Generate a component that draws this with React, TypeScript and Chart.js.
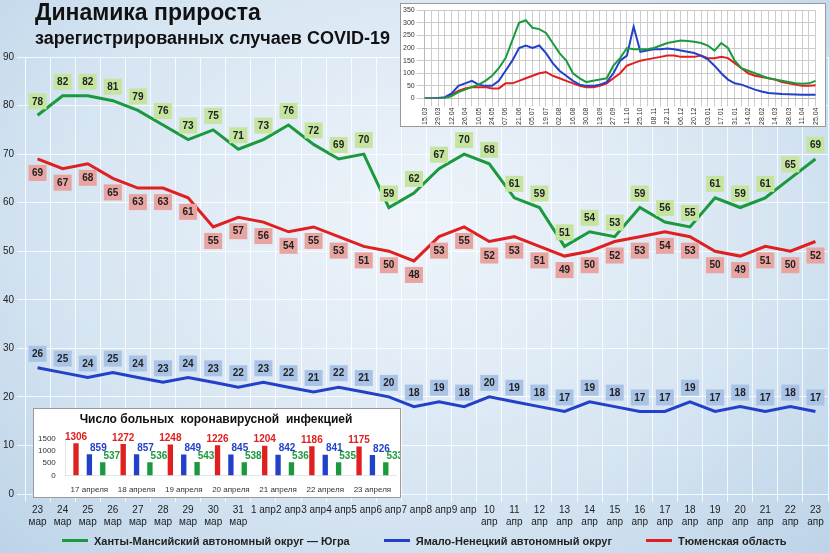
import { useEffect, useRef } from "react"
import Chart from "chart.js/auto"

const days = [
  ["23", "мар"], ["24", "мар"], ["25", "мар"], ["26", "мар"], ["27", "мар"], ["28", "мар"], ["29", "мар"], ["30", "мар"], ["31", "мар"],
  "1 апр", "2 апр", "3 апр", "4 апр", "5 апр", "6 апр", "7 апр", "8 апр", "9 апр",
  ["10", "апр"], ["11", "апр"], ["12", "апр"], ["13", "апр"], ["14", "апр"], ["15", "апр"], ["16", "апр"],
  ["17", "апр"], ["18", "апр"], ["19", "апр"], ["20", "апр"], ["21", "апр"], ["22", "апр"], ["23", "апр"],
]
const hmao = [78, 82, 82, 81, 79, 76, 73, 75, 71, 73, 76, 72, 69, 70, 59, 62, 67, 70, 68, 61, 59, 51, 54, 53, 59, 56, 55, 61, 59, 61, 65, 69]
const tyumen = [69, 67, 68, 65, 63, 63, 61, 55, 57, 56, 54, 55, 53, 51, 50, 48, 53, 55, 52, 53, 51, 49, 50, 52, 53, 54, 53, 50, 49, 51, 50, 52]
const yanao = [26, 25, 24, 25, 24, 23, 24, 23, 22, 23, 22, 21, 22, 21, 20, 18, 19, 18, 20, 19, 18, 17, 19, 18, 17, 17, 19, 17, 18, 17, 18, 17]

// weekly history for the top inset
const weeks = [
  "15.03", "22.03", "29.03", "05.04", "12.04", "19.04", "26.04", "03.05", "10.05", "17.05", "24.05", "31.05", "07.06", "14.06",
  "21.06", "28.06", "05.07", "12.07", "19.07", "26.07", "02.08", "09.08", "16.08", "23.08", "30.08", "06.09", "13.09", "20.09",
  "27.09", "04.10", "11.10", "18.10", "25.10", "01.11", "08.11", "15.11", "22.11", "29.11", "06.12", "13.12", "20.12", "27.12",
  "03.01", "10.01", "17.01", "24.01", "31.01", "07.02", "14.02", "21.02", "28.02", "07.03", "14.03", "21.03", "28.03", "04.04",
  "11.04", "18.04", "25.04",
]
const histGreen = [0, 0, 0, 2, 10, 25, 35, 45, 55, 70, 90, 120, 160, 230, 300, 310, 280, 275, 260, 220, 180, 150, 100, 80, 65, 70, 75, 80, 130, 160, 200, 195, 195, 195, 200, 210, 220, 225, 230, 228, 225, 220, 210, 190, 220, 200, 150, 120, 110, 100, 90, 80, 75, 70, 65, 60, 58, 60, 70]
const histBlue = [0, 0, 2, 5, 20, 50, 60, 70, 55, 50, 50, 70, 110, 150, 200, 210, 200, 210, 180, 140, 110, 90, 70, 55, 50, 50, 55, 65, 100, 150, 170, 285, 185, 190, 195, 195, 198, 195, 190, 185, 180, 170, 155, 130, 100, 75, 60, 55, 45, 35, 28, 22, 20, 18, 17, 16, 15, 15, 15]
const histRed = [0, 0, 1, 3, 15, 30, 40, 45, 45, 45, 40, 40, 60, 60, 70, 80, 90, 100, 105, 90, 80, 70, 60, 50, 45, 45, 50, 60, 80, 100, 130, 140, 150, 155, 160, 165, 170, 170, 165, 165, 165, 170, 160, 160, 165, 160, 140, 120, 100, 90, 85, 80, 75, 65, 60, 55, 50, 50, 52]

const sickDates = ["17 апреля", "18 апреля", "19 апреля", "20 апреля", "21 апреля", "22 апреля", "23 апреля"]
const sickTyumen = [1306, 1272, 1248, 1226, 1204, 1186, 1175]
const sickYanao = [859, 857, 849, 845, 842, 841, 826]
const sickHmao = [537, 536, 543, 538, 536, 535, 533]

const GREEN = "#1a9a3c"
const BLUE = "#2340c8"
const RED = "#e02020"

const boxLabels = {
  id: "boxLabels",
  afterDatasetsDraw(chart: any) {
    const ctx = chart.ctx
    ctx.save()
    ctx.font = "bold 10px 'Liberation Sans', Arial"
    ctx.textAlign = "center"
    ctx.textBaseline = "middle"
    chart.data.datasets.forEach((ds: any, i: number) => {
      const meta = chart.getDatasetMeta(i)
      meta.data.forEach((pt: any, j: number) => {
        const y = ds.labelPos === "below" ? pt.y + 14 : pt.y - 14
        ctx.fillStyle = ds.boxColor
        ctx.fillRect(pt.x - 9, y - 8, 18, 16)
        ctx.fillStyle = ds.textColor
        ctx.fillText(String(ds.data[j]), pt.x, y + 0.5)
      })
    })
    ctx.restore()
  },
}

const barLabels = {
  id: "barLabels",
  afterDatasetsDraw(chart: any) {
    const ctx = chart.ctx
    ctx.save()
    ctx.font = "bold 10px 'Liberation Sans', Arial"
    ctx.textAlign = "center"
    ctx.textBaseline = "bottom"
    chart.data.datasets.forEach((ds: any, i: number) => {
      chart.getDatasetMeta(i).data.forEach((b: any, j: number) => {
        ctx.fillStyle = ds.backgroundColor
        ctx.fillText(String(ds.data[j]), i === 0 ? b.x : b.x + 9, b.y - 1)
      })
    })
    ctx.restore()
  },
}

function MainChart() {
  const ref = useRef<HTMLCanvasElement>(null)
  useEffect(() => {
    if (!ref.current) return
    const chart = new Chart(ref.current, {
      type: "line",
      data: {
        labels: days as any,
        datasets: [
          { data: hmao, borderColor: GREEN, borderWidth: 3, pointRadius: 0, boxColor: "#c5e4a0", textColor: "#222", labelPos: "above" } as any,
          { data: tyumen, borderColor: RED, borderWidth: 3, pointRadius: 0, boxColor: "#e8a4a0", textColor: "#222", labelPos: "below" } as any,
          { data: yanao, borderColor: BLUE, borderWidth: 3, pointRadius: 0, boxColor: "#a9c3e6", textColor: "#222", labelPos: "above" } as any,
        ],
      },
      options: {
        animation: false,
        responsive: false,
        layout: { padding: { top: 57, right: 2, bottom: 0, left: 0 } },
        plugins: { legend: { display: false }, tooltip: { enabled: false } },
        scales: {
          x: {
            offset: true,
            grid: { color: "rgba(255,255,255,0.8)", offset: true },
            border: { display: false },
            ticks: { color: "#222", font: { size: 10, family: "'Liberation Sans', Arial" }, maxRotation: 0, autoSkip: false, padding: 2 },
          },
          y: {
            min: 0, max: 90,
            afterFit: (s: any) => { s.width = 25 },
            grid: { color: "rgba(255,255,255,0.8)" },
            border: { display: false },
            ticks: { stepSize: 10, color: "#222", font: { size: 10, family: "'Liberation Sans', Arial" } },
          },
        },
      },
      plugins: [boxLabels],
    })
    return () => chart.destroy()
  }, [])
  return <canvas ref={ref} width={830} height={530} style={{ position: "absolute", left: 0, top: 0 }} />
}

function HistChart() {
  const ref = useRef<HTMLCanvasElement>(null)
  useEffect(() => {
    if (!ref.current) return
    const chart = new Chart(ref.current, {
      type: "line",
      data: {
        labels: weeks,
        datasets: [
          { data: histGreen, borderColor: GREEN, borderWidth: 2, pointRadius: 0 },
          { data: histBlue, borderColor: BLUE, borderWidth: 2, pointRadius: 0 },
          { data: histRed, borderColor: RED, borderWidth: 2, pointRadius: 0 },
        ],
      },
      options: {
        animation: false,
        responsive: false,
        layout: { padding: { top: 4, right: 4 } },
        plugins: { legend: { display: false }, tooltip: { enabled: false } },
        scales: {
          x: {
            grid: { color: "#ccc" },
            ticks: { color: "#333", font: { size: 7 }, autoSkip: false, maxRotation: 90, minRotation: 90, padding: 1,
              callback: (_v: any, i: number) => (i % 2 === 0 ? weeks[i] : "") },
          },
          y: {
            min: 0, max: 350,
            grid: { color: "#ccc" },
            ticks: { stepSize: 50, color: "#333", font: { size: 7 }, padding: 2 },
          },
        },
      },
    })
    return () => chart.destroy()
  }, [])
  return <canvas ref={ref} width={424} height={122} />
}

function SickChart() {
  const ref = useRef<HTMLCanvasElement>(null)
  useEffect(() => {
    if (!ref.current) return
    const chart = new Chart(ref.current, {
      type: "bar",
      data: {
        labels: sickDates,
        datasets: [
          { data: sickTyumen, backgroundColor: RED, barPercentage: 0.4, categoryPercentage: 0.85 },
          { data: sickYanao, backgroundColor: BLUE, barPercentage: 0.4, categoryPercentage: 0.85 },
          { data: sickHmao, backgroundColor: GREEN, barPercentage: 0.4, categoryPercentage: 0.85 },
        ],
      },
      options: {
        animation: false,
        responsive: false,
        layout: { padding: { top: 3, right: 4, left: 2 } },
        plugins: {
          legend: { display: false }, tooltip: { enabled: false },
          title: { display: true, text: "Число больных  коронавирусной  инфекцией", color: "#111", font: { size: 12, weight: "bold", family: "'Liberation Sans', Arial" }, padding: { top: 0, bottom: 12 } },
        },
        scales: {
          x: { grid: { display: false }, ticks: { color: "#333", font: { size: 8 }, maxRotation: 0, autoSkip: false, padding: 2 } },
          y: {
            min: 0, max: 1500, grid: { display: false },
            ticks: { stepSize: 500, autoSkip: false, color: "#333", font: { size: 8 }, padding: 2, callback: (v: any) => String(v) },
          },
        },
      },
      plugins: [barLabels],
    })
    return () => chart.destroy()
  }, [])
  return <canvas ref={ref} width={366} height={88} />
}

export default function App() {
  const legendItem = (color: string, text: string) => (
    <span style={{ display: "inline-flex", alignItems: "center", marginRight: 34 }}>
      <span style={{ display: "inline-block", width: 26, height: 3, background: color, marginRight: 6 }} />
      {text}
    </span>
  )
  return (
    <div style={{ position: "fixed", left: 0, top: 0, width: 830, height: 553, overflow: "hidden",
      background: "radial-gradient(ellipse at 50% 40%, #eef4fa 0%, #d6e5f2 60%, #bcd3e8 100%)",
      fontFamily: "'Liberation Sans', Arial, sans-serif" }}>
      <MainChart />
      <div style={{ position: "absolute", left: 35, top: -2, fontSize: 23, fontWeight: "bold", color: "#111", lineHeight: "28px" }}>
        Динамика прироста
      </div>
      <div style={{ position: "absolute", left: 35, top: 25, fontSize: 18, fontWeight: "bold", color: "#111", lineHeight: "26px" }}>
        зарегистрированных случаев COVID-19
      </div>
      <div style={{ position: "absolute", left: 400, top: 3, background: "#fff", border: "1px solid #999" }}>
        <HistChart />
      </div>
      <div style={{ position: "absolute", left: 33, top: 408, background: "#fff", border: "1px solid #999" }}>
        <SickChart />
      </div>
      <div style={{ position: "absolute", left: 62, top: 532, fontSize: 11, fontWeight: "bold", color: "#222", whiteSpace: "nowrap" }}>
        {legendItem(GREEN, "Ханты-Мансийский автономный округ — Югра")}
        {legendItem(BLUE, "Ямало-Ненецкий автономный округ")}
        {legendItem(RED, "Тюменская область")}
      </div>
    </div>
  )
}
